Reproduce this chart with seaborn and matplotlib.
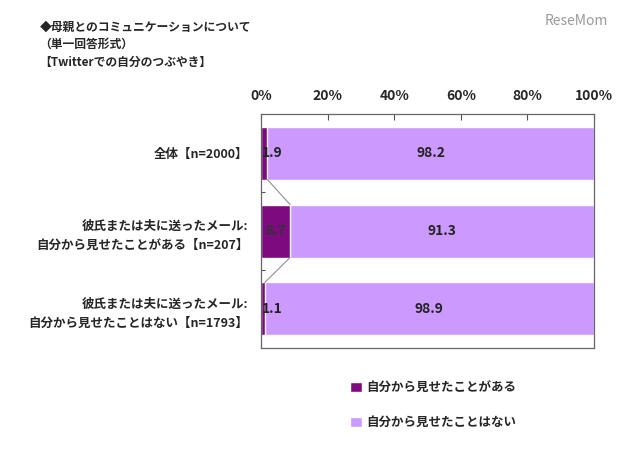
"""
母親とのコミュニケーション (Twitterでの自分のつぶやき) stacked bar chart.
"""
import numpy as np
import matplotlib
matplotlib.use('Agg')
import matplotlib.pyplot as plt
import seaborn as sns
import pandas as pd

sns.set_theme(style='white')
plt.rcParams['font.family'] = ['Noto Sans CJK JP', 'DejaVu Sans']
plt.rcParams['font.weight'] = 'bold'

# data
categories = ['全体【n=2000】',
              '彼氏または夫に送ったメール:\n自分から見せたことがある【n=207】',
              '彼氏または夫に送ったメール:\n自分から見せたことはない【n=1793】']
shown = [1.9, 8.7, 1.1]
not_shown = [98.2, 91.3, 98.9]
series_names = ['自分から見せたことがある', '自分から見せたことはない']
xticks = [0, 20, 40, 60, 80, 100]

dark = '#7E0A80'
light = '#CC99FF'

df = pd.DataFrame({'cat': categories, 'shown': shown, 'not_shown': not_shown})
df['total'] = df['shown'] + df['not_shown']

fig = plt.figure(figsize=(6.4, 4.53), dpi=100)
ax = fig.add_axes([0.408, 0.232, 0.520, 0.516])

sns.barplot(data=df, x='total', y='cat', orient='h', color=light,
            width=0.68, saturation=1, ax=ax, label=series_names[1])
sns.barplot(data=df, x='shown', y='cat', orient='h', color=dark,
            width=0.68, saturation=1, ax=ax, label=series_names[0])
handles, labels = ax.get_legend_handles_labels()
if ax.get_legend() is not None:
    ax.get_legend().remove()

# series lines between bars
h = 0.68 / 2
for i in range(len(shown) - 1):
    ax.plot([shown[i], shown[i + 1]], [i + h, i + 1 - h],
            color='#909090', lw=0.8, zorder=1)

# value labels
for i in range(len(categories)):
    if shown[i] < 5:
        ax.text(0.3, i, f'{shown[i]:.1f}', ha='left', va='center',
                fontsize=10, color='#222222')
    else:
        ax.text(shown[i] / 2, i, f'{shown[i]:.1f}', ha='center', va='center',
                fontsize=10, color='#333333')
    ax.text(shown[i] + not_shown[i] / 2, i, f'{not_shown[i]:.1f}',
            ha='center', va='center', fontsize=10, color='#222222')

ax.set_xlim(0, 100)
ax.set_ylim(2.5, -0.5)
ax.set_xticks(xticks)
ax.set_xticklabels([f'{t}%' for t in xticks], fontsize=10, fontweight='bold')
ax.xaxis.tick_top()
ax.tick_params(axis='x', direction='in', length=4, width=0.8, color='#555555',
               pad=8, top=True, bottom=False)
ax.set_yticks([0, 1, 2])
ax.set_yticklabels(categories, fontsize=9, fontweight='bold', linespacing=1.6)
ax.set_yticks([0.5, 1.5], minor=True)
ax.tick_params(axis='y', which='major', length=0, pad=9)
ax.tick_params(axis='y', which='minor', direction='in', length=3, width=0.8,
               color='#555555', left=True)
ax.set_xlabel('')
ax.set_ylabel('')
for s in ax.spines.values():
    s.set_visible(True)
    s.set_color('#666666')
    s.set_linewidth(0.9)

# legend
fig.legend(handles[::-1], labels[::-1], loc='upper left',
           bbox_to_anchor=(0.53, 0.183), frameon=False,
           prop={'size': 9, 'weight': 'bold'}, handlelength=0.9,
           handleheight=0.9, handletextpad=0.4, labelspacing=1.75)

# title
fig.text(0.062, 0.955, '◆母親とのコミュニケーションについて\n（単一回答形式）\n【Twitterでの自分のつぶやき】',
         ha='left', va='top', fontsize=8.5, fontweight='bold',
         linespacing=1.45)
fig.text(0.95, 0.97, 'ReseMom', ha='right', va='top', fontsize=10,
         color='#9a9a9a', fontweight='normal', style='italic')

fig.savefig('out.png', dpi=100)
